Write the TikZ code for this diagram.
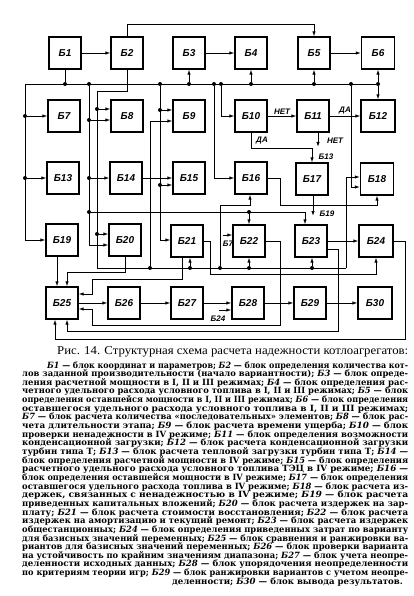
\documentclass[tikz,border=0pt]{standalone}
\usepackage{fontspec}
\usepackage{graphicx}
\setmainfont{Liberation Serif}
\newfontfamily\blkfont{Liberation Sans}
\newfontfamily\capbodyfont{DejaVu Serif}
\usetikzlibrary{arrows.meta}
\newcommand\blkref[1]{\textit{#1}}
\newcommand\capl[5]{\node[anchor=base west,inner sep=0pt,font=\capbodyfont\bfseries\fontsize{8.6}{8.6}\selectfont] (#1) at (#2,#3) {\resizebox{#4pt}{\height}{#5}};}
\begin{document}
\begin{tikzpicture}[x=1pt,y=-1pt,
  blk/.style={draw, line width=1.2pt, minimum width=32pt, minimum height=32pt, inner sep=0pt,
    font=\blkfont\bfseries\itshape\fontsize{10}{10}\selectfont},
  wire/.style={line width=0.9pt},
  arr/.style={wire, -{Latex[length=5pt,width=3.4pt]}},
  dot/.style={circle, fill, inner sep=0pt, minimum size=4pt},
  lbl/.style={font=\blkfont\bfseries\itshape\fontsize{8}{8}\selectfont, inner sep=0pt}]
\useasboundingbox (0,0) rectangle (414,596);
\fill[white] (0,0) rectangle (414,596);
% ---- blocks
\node[blk] (b1) at (65,53) {Б1};
\node[blk] (b2) at (127,53) {Б2};
\node[blk] (b3) at (189,53) {Б3};
\node[blk] (b4) at (251,53) {Б4};
\node[blk] (b5) at (314,53) {Б5};
\node[blk,minimum width=33pt] (b6) at (378,53) {Б6};
\node[blk] (b7) at (64,116) {Б7};
\node[blk] (b8) at (127,116) {Б8};
\node[blk] (b9) at (189,116) {Б9};
\node[blk] (b10) at (251,116) {Б10};
\node[blk] (b11) at (313,116) {Б11};
\node[blk,minimum width=34pt] (b12) at (378,116) {Б12};
\node[blk] (b13) at (63,178) {Б13};
\node[blk] (b14) at (126,178) {Б14};
\node[blk] (b15) at (189,178) {Б15};
\node[blk] (b16) at (251,178) {Б16};
\node[blk] (b17) at (312,179) {Б17};
\node[blk,minimum width=33pt] (b18) at (377,179) {Б18};
\node[blk] (b19) at (62,240) {Б19};
\node[blk] (b20) at (125,240) {Б20};
\node[blk] (b21) at (187,241) {Б21};
\node[blk] (b22) at (249,241) {Б22};
\node[blk] (b23) at (311,241) {Б23};
\node[blk,minimum width=34pt] (b24) at (376,241) {Б24};
\node[blk] (b25) at (62,303) {Б25};
\node[blk] (b26) at (124,303) {Б26};
\node[blk] (b27) at (187,303) {Б27};
\node[blk] (b28) at (248,303) {Б28};
\node[blk] (b29) at (310,303) {Б29};
\node[blk,minimum width=34pt] (b30) at (375,303) {Б30};
% ---- bus A
\coordinate (a0) at (25,84);
\node[dot] (a1) at (65,84) {};
\node[dot] (a2) at (89,84) {};
\node[dot] (a3) at (160,84) {};
\node[dot] (a4) at (189,84) {};
\node[dot] (a5) at (214,84) {};
\node[dot] (a6) at (221,84) {};
\node[dot] (a7) at (251,84) {};
\node[dot] (a8) at (314,84) {};
\node[dot] (a9) at (351,84) {};
\node[dot] (a10) at (378,84) {};
\draw[wire] (a0) -- (a10);
\draw[wire] (b1) -- (a1);
\draw[arr] (a4) -- (b3);
\draw[arr] (a7) -- (b4);
\draw[arr] (a8) -- (b5);
\draw[arr] (a10) -- (b6);
\draw[arr] (a10) -- (b12);
% left trunk
\node[dot] (l7) at (25,116) {};
\node[dot] (l13) at (25,178) {};
\draw[arr] (a0) |- (b19.west);
\draw[arr] (l7) -- (b7);
\draw[arr] (l13) -- (b13);
% trunk x=89
\node[dot] (m8) at (89,120) {};
\node[dot] (m14) at (89,178) {};
\node[dot] (mB) at (89,212) {};
\coordinate (m20) at (89,245);
\draw[wire] (a2) -- (m20);
\draw[arr] (m20) -- (m20 -| b20.west);
\draw[arr] (m8) -- (m8 -| b8.west);
\draw[arr] (m14) -- (b14);
% output of B2, trunk x=97 and bus C
\coordinate (k1) at (127,91);
\coordinate (k2) at (97,91);
\node[dot] (k8) at (97,109) {};
\node[dot] (k20) at (97,234) {};
\coordinate (k3) at (97,268);
\coordinate (k4) at (346,268);
\coordinate (k5) at (346,177);
\draw[wire] (b2) -- (k1) -- (k2) -- (k3) -- (k4);
\draw[arr] (k4) -- (k5) -- (k5 -| b18.west);
\draw[arr] (k8) -- (k8 -| b8.west);
\draw[arr] (k20) -- (k20 -| b20.west);
\node[dot] (n9) at (150,268) {};
\node[dot] (n21) at (190,268) {};
\node[dot] (n16) at (220,268) {};
\node[dot] (n22) at (249,268) {};
\node[dot] (n23) at (312,268) {};
\coordinate (n9b) at (150,121);
\draw[arr] (n9) -- (n9b) -- (n9b -| b9.west);
\draw[arr] (n21) -- (n21 |- b21.south);
\coordinate (n16b) at (220,205);
\coordinate (n16c) at (250,205);
\draw[arr] (n16) -- (n16b) -- (n16c) -- (n16c |- b16.south);
\draw[arr] (n22) -- (n22 |- b22.south);
\draw[arr] (n23) -- (n23 |- b23.south);
% trunk x=160
\node[dot] (p9) at (160,110) {};
\node[dot] (p15) at (160,185) {};
\coordinate (p21) at (160,240);
\draw[wire] (a3) -- (p21);
\draw[arr] (p21) -- (p21 -| b21.west);
\draw[arr] (p9) -- (p9 -| b9.west);
\draw[arr] (p15) -- (p15 -| b15.west);
% x=214, x=221, x=351
\draw[arr] (a5) |- (b16.west);
\draw[arr] (a6) |- (b10.west);
\coordinate (q18) at (351,187);
\draw[arr] (a9) -- (q18) -- (q18 -| b18.west);
% top line
\coordinate (tp) at (127,24);
\draw[arr] (b2) -- (tp) -| (b5);
% row 1
\draw[arr] (b1) -- (b2);
\draw[arr] (b3) -- (b4);
\draw[arr] (b5) -- (b6);
% row 2
\draw[arr] (b10) -- node[above=1.5pt, lbl] (tNet1) {НЕТ} (b11);
\draw[arr] (b11) -- node[above=1.5pt, lbl] (tDa1) {ДА} (b12);
\coordinate (d10) at (251,148);
\draw[arr] (b10) -- (d10) -| (b17);
\node[lbl] (tDa2) at (262,141) {ДА};
\coordinate (e11) at (318,147);
\draw[arr] (e11 |- b11.south) -- (e11);
\node[lbl] (tNet2) at (335,141) {НЕТ};
\node[lbl] (tB13) at (326,157) {Б13};
% row 3
\draw[arr] (b14) -- (b15);
\coordinate (f1) at (280,178);
\coordinate (f2) at (280,205);
\draw[arr] (b16) -- (f1) -- (f2) -| (b18);
\coordinate (g17) at (313,216);
\draw[arr] (g17 |- b17.south) -- (g17);
\node[lbl] (tB19) at (327,214) {Б19};
% bus B
\node[dot] (h22) at (249,212) {};
\coordinate (h23) at (305,212);
\draw[arr] (mB) -- (h23) -- (h23 |- b23.north);
\draw[arr] (h22) -- (h22 |- b22.north);
% B7 reference
\coordinate (s7) at (223,235);
\draw[arr] (s7) -- (s7 -| b22.west);
\node[lbl] (tB7) at (228,244) {Б7};
% outputs of B21
\coordinate (u1) at (210,241);
\coordinate (u2) at (210,274);
\draw[arr] (b21) -- (u1) -- (u2) -| (b24);
\coordinate (v1) at (182,279);
\coordinate (v2) at (92,279);
\coordinate (v3) at (92,294);
\draw[arr] (v1 |- b21.south) -- (v1) -- (v2) -- (v3) -- (v3 -| b25.east);
% output of B22
\coordinate (w1) at (280,241);
\coordinate (w2) at (280,325);
\coordinate (w3) at (92,325);
\coordinate (w4) at (92,309);
\draw[arr] (b22) -- (w1) -- (w2) -- (w3) -- (w4) -- (w4 -| b25.east);
% B23
\draw[arr] (b23) -- (b24);
\coordinate (x1) at (338,249);
\coordinate (x2) at (338,331);
\coordinate (x3) at (67,331);
\draw[arr] (x1 -| b23.east) -- (x1) -- (x2) -- (x3) -- (x3 |- b25.south);
% B24 loop
\coordinate (y1) at (405,241);
\coordinate (y2) at (405,339);
\coordinate (y3) at (55,339);
\draw[arr] (b24) -- (y1) -- (y2) -- (y3) -- (y3 |- b25.south);
% B19, B20 -> B25
\coordinate (z1) at (57,270);
\draw[arr] (z1 |- b19.south) -- (z1 |- b25.north);
\coordinate (z2) at (125,272);
\coordinate (z3) at (67,272);
\draw[arr] (z2 |- b20.south) -- (z2) -- (z3) -- (z3 |- b25.north);
% row 5
\draw[arr] (b25) -- (b26);
\draw[arr] (b26) -- (b27);
\draw[arr] (b27) -- (b28);
\draw[arr] (b28) -- (b29);
\draw[arr] (b29) -- (b30);
\coordinate (s24) at (219,310);
\draw[arr] (s24) -- (s24 -| b28.west);
\node[lbl] (tB24) at (218,319) {Б24};
% ---- caption
\node[anchor=base west, inner sep=0pt, font=\fontsize{12}{12}\selectfont] (cap0) at (57,354)
  {\resizebox{351pt}{\height}{Рис. 14. Структурная схема расчета надежности котлоагрегатов:}};
\capl{c1}{47}{368}{361}{\blkref{Б1} — блок координат и параметров; \blkref{Б2} — блок определения количества кот-}
\capl{c2}{22}{376.65}{386}{лов заданной производительности (начало вариантности); \blkref{Б3} — блок опреде-}
\capl{c3}{22}{385.3}{386}{ления расчетной мощности в I, II и III режимах; \blkref{Б4} — блок определения рас-}
\capl{c4}{22}{393.95}{386}{четного удельного расхода условного топлива в I, II и III режимах; \blkref{Б5} — блок}
\capl{c5}{22}{402.6}{386}{определения оставшейся мощности в I, II и III режимах; \blkref{Б6} — блок определения}
\capl{c6}{22}{411.25}{386}{оставшегося удельного расхода условного топлива в I, II и III режимах;}
\capl{c7}{22}{419.9}{386}{\blkref{Б7} — блок расчета количества «последовательных» элементов; \blkref{Б8} — блок рас-}
\capl{c8}{22}{428.55}{386}{чета длительности этапа; \blkref{Б9} — блок расчета времени ущерба; \blkref{Б10} — блок}
\capl{c9}{22}{437.2}{386}{проверки ненадежности в IV режиме; \blkref{Б11} — блок определения возможности}
\capl{c10}{22}{445.85}{386}{конденсационной загрузки; \blkref{Б12} — блок расчета конденсационной загрузки}
\capl{c11}{22}{454.5}{386}{турбин типа Т; \blkref{Б13} — блок расчета тепловой загрузки турбин типа Т; \blkref{Б14} —}
\capl{c12}{22}{463.15}{386}{блок определения расчетной мощности в IV режиме; \blkref{Б15} — блок определения}
\capl{c13}{22}{471.8}{386}{расчетного удельного расхода условного топлива ТЭЦ в IV режиме; \blkref{Б16} —}
\capl{c14}{22}{480.45}{386}{блок определения оставшейся мощности в IV режиме; \blkref{Б17} — блок определения}
\capl{c15}{22}{489.1}{386}{оставшегося удельного расхода топлива в IV режиме; \blkref{Б18} — блок расчета из-}
\capl{c16}{22}{497.75}{386}{держек, связанных с ненадежностью в IV режиме; \blkref{Б19} — блок расчета}
\capl{c17}{22}{506.4}{386}{приведенных капитальных вложений; \blkref{Б20} — блок расчета издержек на зар-}
\capl{c18}{22}{515.05}{386}{плату; \blkref{Б21} — блок расчета стоимости восстановления; \blkref{Б22} — блок расчета}
\capl{c19}{22}{523.7}{386}{издержек на амортизацию и текущий ремонт; \blkref{Б23} — блок расчета издержек}
\capl{c20}{22}{532.35}{386}{общестанционных; \blkref{Б24} — блок определения приведенных затрат по варианту}
\capl{c21}{22}{541}{386}{для базисных значений переменных; \blkref{Б25} — блок сравнения и ранжировки ва-}
\capl{c22}{22}{549.65}{386}{риантов для базисных значений переменных; \blkref{Б26} — блок проверки варианта}
\capl{c23}{22}{558.3}{386}{на устойчивость по крайним значениям диапазона; \blkref{Б27} — блок учета неопре-}
\capl{c24}{22}{566.95}{386}{деленности исходных данных; \blkref{Б28} — блок упорядочения неопределенности}
\capl{c25}{22}{575.6}{386}{по критериям теории игр; \blkref{Б29} — блок ранжировки вариантов с учетом неопре-}
\node[anchor=base west,inner sep=0pt,font=\capbodyfont\bfseries\fontsize{8.6}{8.6}\selectfont] (c26) at (172,584.25)
  {деленности; \blkref{Б30} — блок вывода результатов.};
\end{tikzpicture}
\end{document}
